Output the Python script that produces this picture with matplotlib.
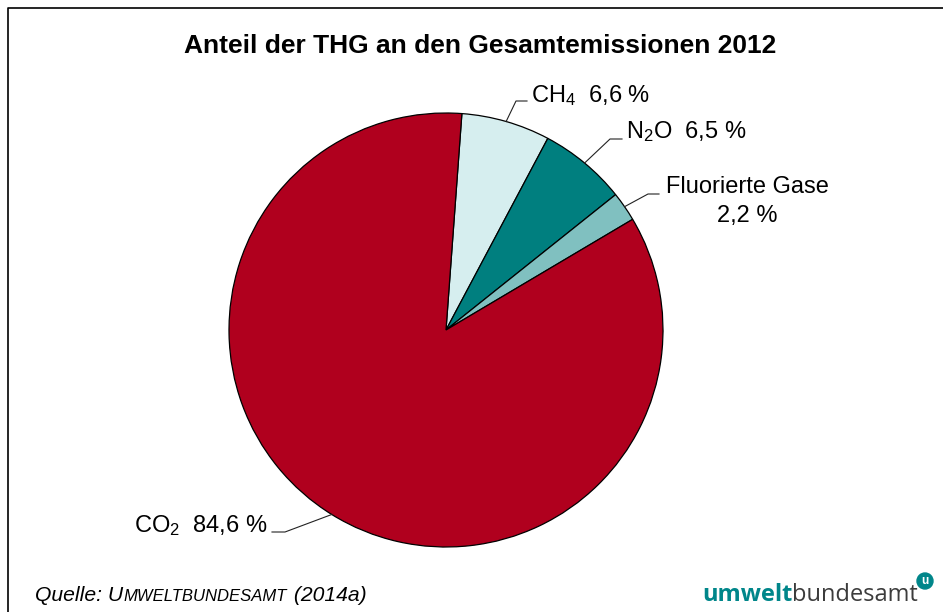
import numpy as np
import matplotlib.pyplot as plt
from matplotlib.patches import Circle

plt.rcParams['font.family'] = ['Liberation Sans', 'DejaVu Sans']
plt.rcParams['mathtext.fontset'] = 'custom'
plt.rcParams['mathtext.rm'] = 'Liberation Sans'
plt.rcParams['mathtext.it'] = 'Liberation Sans:italic'

# data, clockwise from the top
gases = ['CH$_\\mathregular{4}$', 'N$_\\mathregular{2}$O', 'Fluorierte Gase', 'CO$_\\mathregular{2}$']
shares = [6.6, 6.5, 2.2, 84.6]
share_labels = ['6,6 %', '6,5 %', '2,2 %', '84,6 %']
colors = ['#D6EEEF', '#007F7F', '#80C0C0', '#B0001E']

W, H = 943, 612
fig = plt.figure(figsize=(9.43, 6.12), dpi=100)
ax = fig.add_axes([0, 0, 1, 1])

def P(x, y):
    # pixel position (y from top) -> data coords
    return x, H - y

cx, cy = P(446, 330)
r = 217
wedges, _ = ax.pie(shares, colors=colors, startangle=85.8, counterclock=False,
                   center=(cx, cy), radius=r,
                   wedgeprops=dict(edgecolor='black', linewidth=0.9))
ax.set_xlim(0, W)
ax.set_ylim(0, H)
ax.axis('off')

# leader lines: wedge edge -> elbow -> short horizontal
elbows = [(516, 101, 527), (610, 139, 622), (648, 194, 659), (285, 532, 272)]
for w, (ex, ey, hx) in zip(wedges, elbows):
    mid = np.radians((w.theta1 + w.theta2) / 2)
    x0, y0 = cx + r * np.cos(mid), cy + r * np.sin(mid)
    x1, y1 = P(ex, ey)
    ax.plot([x0, x1, hx], [y0, y1, y1], color='#222222', lw=0.8)

fs = 17
ax.text(*P(531, 102), gases[0] + '  ' + share_labels[0], fontsize=fs, va='baseline', ha='left')
ax.text(*P(626, 138), gases[1] + '  ' + share_labels[1], fontsize=fs, va='baseline', ha='left')
ax.text(*P(747, 193), gases[2], fontsize=fs, va='baseline', ha='center')
ax.text(*P(747, 222), share_labels[2], fontsize=fs, va='baseline', ha='center')
ax.text(*P(267, 532), gases[3] + '  ' + share_labels[3], fontsize=fs, va='baseline', ha='right')

ax.text(*P(480, 53), 'Anteil der THG an den Gesamtemissionen 2012', fontsize=19,
        fontweight='bold', ha='center', va='baseline')

# frame lines (left and top only)
ax.plot([7.5, 7.5, W], [0, H - 7.5, H - 7.5], color='black', lw=1.2, clip_on=False)

# footer: source with small caps
fig.canvas.draw()
rend = fig.canvas.get_renderer()
x = 35
for txt, size in [('Quelle: U', 15.2), ('MWELTBUNDESAMT', 12.0), (' (2014a)', 15.2)]:
    t = ax.text(*P(x, 601), txt, fontsize=size, style='italic', va='baseline', ha='left')
    x = t.get_window_extent(rend).x1 + 0.5

# logo
t = ax.text(*P(702, 601), 'umwelt', fontsize=17, fontweight='bold', color='#00868A',
            family='Open Sans', va='baseline', ha='left')
x = t.get_window_extent(rend).x1
ax.text(*P(x, 601), 'bundesamt', fontsize=17, color='#3C3C3C', family='Open Sans',
        va='baseline', ha='left')
ax.add_patch(Circle(P(925, 581), 8, color='#00868A', clip_on=False))
ax.text(*P(925, 581.5), 'u', fontsize=8.5, fontweight='bold', color='white',
        ha='center', va='center')

fig.savefig('out.png', dpi=100)
